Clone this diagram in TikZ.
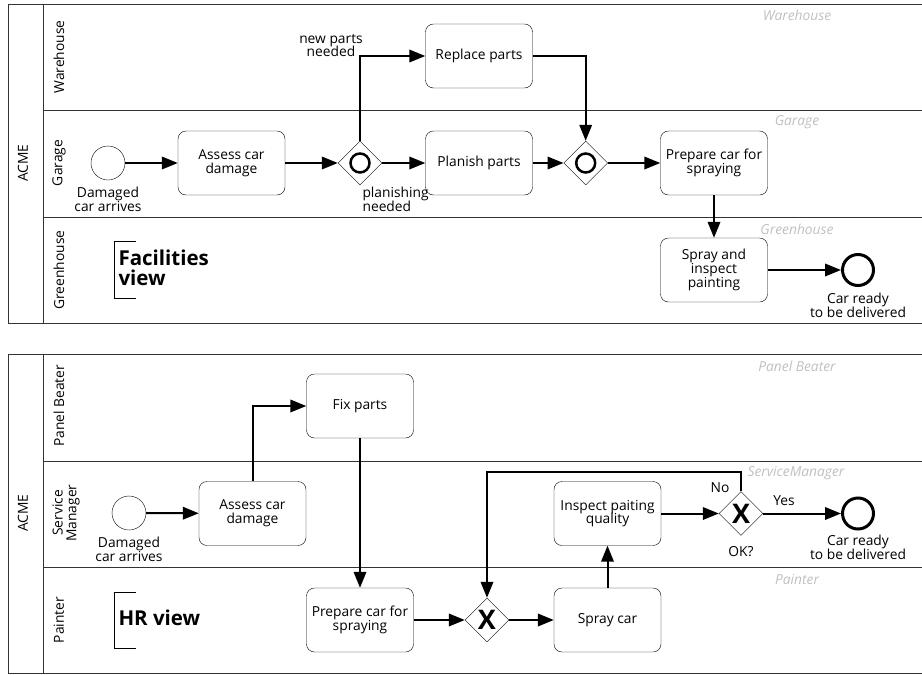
\documentclass[tikz,border=0pt]{standalone}
\usepackage{fontspec}
\setmainfont{Open Sans}
\usetikzlibrary{shapes.geometric,arrows.meta}

\newcommand{\lbl}{\fontsize{13.8}{13.8}\selectfont}
\definecolor{tagcolor}{HTML}{C0C0C0}

\tikzset{
  task/.style={draw,rounded corners=8pt,minimum width=107pt,minimum height=64pt,align=center,inner sep=1pt,font=\lbl},
  gate/.style={draw,diamond,minimum width=44pt,minimum height=44pt,inner sep=0pt,fill=white},
  orgate/.style={gate,path picture={\draw[line width=2.5pt] (path picture bounding box.center) circle (9.5pt);}},
  xorgate/.style={gate,font=\fontsize{27}{27}\selectfont\bfseries},
  startev/.style={draw,circle,minimum size=34pt,inner sep=0pt},
  endev/.style={draw,circle,line width=3pt,minimum size=31pt,inner sep=0pt},
  flow/.style={line width=2pt,-{Triangle[length=16pt,width=12.5pt]}},
  pool/.style={draw=black!80,line width=1pt},
  lanename/.style={rotate=90,align=center,font=\lbl},
  lanetag/.style={text=tagcolor,font=\lbl\itshape},
  txt/.style={align=center,font=\lbl},
  viewtext/.style={anchor=west,align=left,font=\fontsize{20.5}{20.5}\selectfont\bfseries}
}

\begin{document}
\begin{tikzpicture}[x=1pt,y=-1pt]
\useasboundingbox (0,0) rectangle (922,675);

% facilities view
\draw[pool] (8,4) rectangle (930,323);
\draw[pool] (43,4) -- (43,323);
\draw[pool] (43,110) -- (930,110);
\draw[pool] (43,217) -- (930,217);
\node[lanename] (acmea) at (23,163) {ACME};
\node[lanename] (warehouse) at (59,57) {Warehouse};
\node[lanename] (garage) at (59,163) {Garage};
\node[lanename] (greenhouse) at (59,270) {Greenhouse};
\node[lanetag] (tagwarehouse) at (797,15) {Warehouse};
\node[lanetag] (taggarage) at (797,122) {Garage};
\node[lanetag] (taggreenhouse) at (797,229) {Greenhouse};

\draw[line width=1pt] (136,241) -- (114,241) -- (114,298) -- (136,298);
\node[viewtext] (facview) at (115,268) {Facilities\\view};

\node[startev] (starta) at (108,163) {};
\node[txt] (startatxt) at (108,199) {Damaged\\car arrives};
\node[task] (assessa) at (231.5,163) {Assess car\\damage};
\node[orgate] (gwa) at (360,163) {};
\node[task] (replace) at (479,56) {Replace parts};
\node[task] (planish) at (479,163) {Planish parts};
\node[orgate] (gwb) at (585.7,163) {};
\node[task] (prepa) at (714,163) {Prepare car for\\spraying};
\node[task] (spraya) at (714,270) {Spray and\\inspect\\painting};
\node[endev] (enda) at (858,270) {};
\node[txt] (endatxt) at (858,305) {Car ready\\to be delivered};
\node[txt] (newparts) at (331,45.5) {new parts\\needed};
\node[txt,anchor=west,align=left] (planishing) at (359,199) {planishing\\needed};

\draw[flow] (starta) -- (assessa);
\draw[flow] (assessa) -- (gwa);
\draw[flow] (gwa) -- (planish);
\draw[flow] (gwa.north) |- (replace.west);
\draw[flow] (replace.east) -| (gwb.north);
\draw[flow] (planish) -- (gwb);
\draw[flow] (gwb) -- (prepa);
\draw[flow] (prepa) -- (spraya);
\draw[flow] (spraya) -- (enda);

% hr view
\draw[pool] (8,354) rectangle (930,673);
\draw[pool] (43,354) -- (43,673);
\draw[pool] (43,461) -- (930,461);
\draw[pool] (43,567) -- (930,567);
\node[lanename] (acmeb) at (23,513) {ACME};
\node[lanename] (panelbeater) at (59,406) {Panel Beater};
\node[lanename] (servicemgr) at (66,513) {Service\\Manager};
\node[lanename] (painter) at (59,620) {Painter};
\node[lanetag] (tagpanel) at (797,366) {Panel Beater};
\node[lanetag] (tagservice) at (796,473) {ServiceManager};
\node[lanetag] (tagpainter) at (797,579) {Painter};

\draw[line width=1pt] (136,592) -- (114,592) -- (114,648) -- (136,648);
\node[viewtext] (hrview) at (115,618) {HR view};

\node[startev] (startb) at (129,513) {};
\node[txt] (startbtxt) at (129,549) {Damaged\\car arrives};
\node[task] (assessb) at (252.5,513.5) {Assess car\\damage};
\node[task] (fix) at (360,406) {Fix parts};
\node[task] (prepb) at (360,620) {Prepare car for\\spraying};
\node[xorgate] (gwc) at (487,620) {X};
\node[task] (sprayb) at (607.5,620) {Spray car};
\node[task] (inspect) at (607.5,513.5) {Inspect paiting\\quality};
\node[xorgate] (gwd) at (741,513.5) {X};
\node[endev] (endb) at (858,513.5) {};
\node[txt] (endbtxt) at (858,547) {Car ready\\to be delivered};
\node[txt] (no) at (720,488) {No};
\node[txt] (yes) at (784,501) {Yes};
\node[txt] (ok) at (741,552) {OK?};
\coordinate (loop) at (741,472);

\draw[flow] (startb) -- (assessb);
\draw[flow] (assessb.north) |- (fix.west);
\draw[flow] (fix) -- (prepb);
\draw[flow] (prepb) -- (gwc);
\draw[flow] (gwc) -- (sprayb);
\draw[flow] (sprayb) -- (inspect);
\draw[flow] (inspect) -- (gwd);
\draw[flow] (gwd) -- (endb);
\draw[flow] (gwd.north) -- (loop) -| (gwc.north);
\end{tikzpicture}
\end{document}
